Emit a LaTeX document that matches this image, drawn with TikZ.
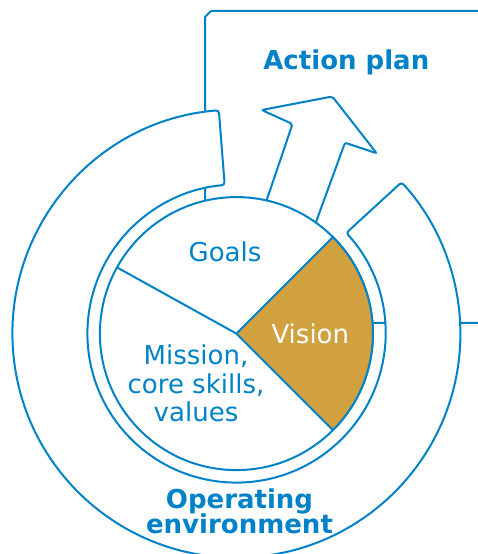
\documentclass[tikz,border=0pt]{standalone}
\usepackage{fontspec}
\setmainfont{DejaVu Sans}
\definecolor{planblue}{RGB}{0,130,200}
\definecolor{visiongold}{RGB}{209,161,63}

\begin{document}
\begin{tikzpicture}
    [x=1pt,y=1pt, line width=2pt, every node/.style={text=planblue, inner sep=0pt},
     title/.style={font={\bfseries\fontsize{26}{25}\selectfont\lineskiplimit=-20pt}},
     part/.style={font={\fontsize{26}{28.4}\selectfont\lineskiplimit=-20pt}}]
    \useasboundingbox (0,0) rectangle (478,554);
    \clip (0,0) rectangle (478,554);
    \coordinate (c) at (236.4,220.4);
    \draw[planblue] (205,231) -- (205,537) -- (211,543) -- (490,543) -- (490,231) -- cycle;
    \draw[planblue, fill=white, rounded corners=3pt] ([shift={(94.5:224)}]c) arc (94.5:402.5:224)
      -- ([shift={(42.5:149)}]c) arc (402.5:94.5:149) -- cycle;
    \draw[planblue, fill=white, rounded corners=2pt] (262,340) -- (292.5,430) -- (261.7,444)
      -- (332.3,457.5) -- (376.7,400.7) -- (345,411.3) -- (312,321) -- cycle;
    \draw[planblue, fill=white] (c) circle (136.5);
    \draw[planblue, fill=visiongold] (c) -- ([shift={(-45:136.5)}]c) arc (-45:45:136.5) -- cycle;
    \draw[planblue] (c) -- ([shift={(151:136.5)}]c);
    \node[title, anchor=base] (plan) at (346.3,484.7) {Action plan};
    \node[part, anchor=base] (goals) at (225,292.3) {Goals};
    \node[part, anchor=base, text=white] (vision) at (310.3,210.7) {Vision};
    \node[part, anchor=base, align=center] (mission) at (196,132.3) {Mission,\\core skills,\\values};
    \node[title, anchor=base, align=center] (environment) at (239.5,20.7) {Operating\\environment};
\end{tikzpicture}
\end{document}
